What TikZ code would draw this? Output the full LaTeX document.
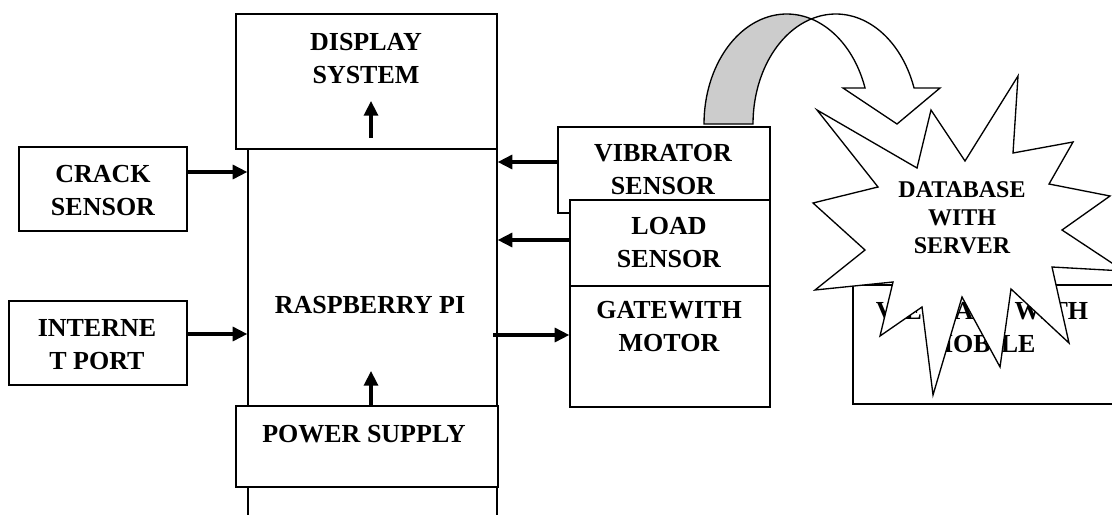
\documentclass[tikz,border=0pt]{standalone}
\usepackage{fontspec}
\setmainfont{Liberation Serif}
\usetikzlibrary{arrows.meta,fit}
\tikzset{
  blk/.style={draw, line width=1pt, fill=white, inner sep=0pt},
  lbl/.style={font=\fontsize{19.5}{24.75}\selectfont\bfseries, align=center, inner sep=0pt},
  starlbl/.style={font=\fontsize{18}{21.2}\selectfont\bfseries, align=center, inner sep=0pt},
  sig/.style={line width=2.4pt, -{Triangle[length=11pt,width=10.5pt]}},
}
\begin{document}
\begin{tikzpicture}[x=0.75pt,y=-0.75pt]
  \useasboundingbox (0,0) rectangle (1112,514);

  % Raspberry Pi (runs off the bottom edge)
  \node[blk, fit={(248,140) (497,530)}] (rpi) {};
  \node[lbl] (rpitxt) at (370,304.7) {RASPBERRY PI};

  % Display system
  \node[blk, fit={(236,14) (497,149)}] (disp) {};
  \node[lbl] (disptxt) at (366,58.2) {DISPLAY\\SYSTEM};

  % Power supply
  \node[blk, fit={(236,406) (498,487)}] (pwr) {};
  \node[lbl] (pwrtxt) at (364,433.7) {POWER SUPPLY};

  % Inputs on the left
  \node[blk, fit={(19,147) (187,231)}] (crack) {};
  \node[lbl] (cracktxt) at (103,190.7) {CRACK\\SENSOR};
  \node[blk, fit={(9,301) (187,385)}] (inet) {};
  \node[lbl] (inettxt) at (97,344.7) {INTERNE\\T PORT};

  % Curved arrow to the cloud
  \draw[line width=1pt, fill=gray!40]
    plot[domain=180:72.8, samples=40] ({786.8+82.8*cos(\x)}, {124-110*sin(\x)})
    -- plot[domain=107.2:180, samples=40] ({835.8+82.8*cos(\x)}, {124-110*sin(\x)})
    -- cycle;
  \draw[line width=1pt, fill=white]
    plot[domain=107.2:19.1, samples=40] ({835.8+82.8*cos(\x)}, {124-110*sin(\x)})
    -- (940,88) -- (897,124) -- (843,88)
    -- plot[domain=19.1:72.8, samples=40] ({786.8+82.8*cos(\x)}, {124-110*sin(\x)})
    -- cycle;

  % Sensors and gate on the right
  \node[blk, fit={(558,127) (770,213)}] (vib) {};
  \node[lbl] (vibtxt) at (663,170) {VIBRATOR\\SENSOR};
  \node[blk, fit={(570,200) (770,286)}] (load) {};
  \node[lbl] (loadtxt) at (669,242.5) {LOAD\\SENSOR};
  \node[blk, fit={(570,286) (770,407)}] (gate) {};
  \node[lbl] (gatetxt) at (669,326.9) {GATEWITH\\MOTOR};

  % Mobile box, mostly hidden
  \node[blk, fit={(853,285) (1130,404)}] (mob) {};
  \node[lbl] (mobtxt) at (982,327.5) {VIEW ALL WITH\\MOBILE};

  % Database burst
  \draw[line width=1pt, fill=white]
    (1018,76) -- (1013,153) -- (1073,142) -- (1049,184) -- (1110,196)
    -- (1062,230) -- (1124,271) -- (1052,267) -- (1069,343) -- (1011,289)
    -- (1000,367) -- (962,297) -- (933,395) -- (922,307) -- (880,336)
    -- (893,282) -- (815,290) -- (865,250) -- (813,203) -- (878,187)
    -- (817,110) -- (917,168) -- (931,110) -- (965,161) -- cycle;
  \node[starlbl] (dbtxt) at (962,217.5) {DATABASE\\WITH\\SERVER};

  % Signal arrows
  \coordinate (dispfoot) at (371,138);
  \coordinate (gatefoot) at (493,335);
  \draw[sig] (crack.east |- 0,172) -- (rpi.west |- 0,172);
  \draw[sig] (inet.east |- 0,334) -- (rpi.west |- 0,334);
  \draw[sig] (dispfoot) -- (dispfoot |- 0,101);
  \draw[sig] (pwr.north -| dispfoot) -- (dispfoot |- 0,371);
  \draw[sig] (vib.west |- 0,162) -- (rpi.east |- 0,162);
  \draw[sig] (load.west |- 0,240) -- (rpi.east |- 0,240);
  \draw[sig] (gatefoot) -- (gate.west |- gatefoot);
\end{tikzpicture}
\end{document}
